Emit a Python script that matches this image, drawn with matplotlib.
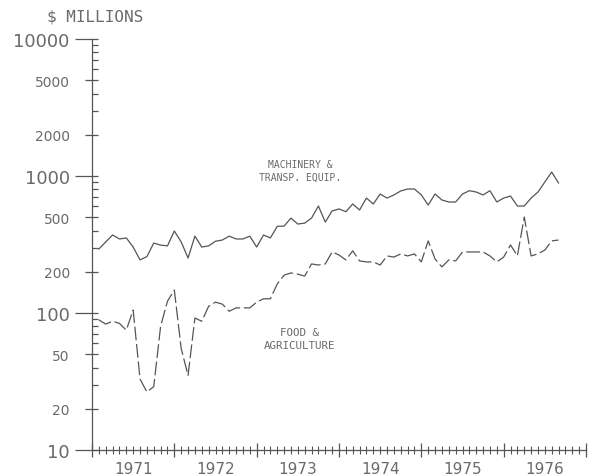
import numpy as np
import matplotlib
matplotlib.use("Agg")
import matplotlib.pyplot as plt

# monthly values, $ millions, starting Feb 1971 (month index 1 = Feb 1971)
machinery = [293, 330, 371, 347, 353, 303, 244, 258, 324, 313, 309, 397,
             330, 252, 364, 303, 309, 334, 341, 364, 347, 347, 364, 303,
             371, 353, 429, 431, 493, 446, 453, 493, 604, 461, 556, 575,
             549, 625, 565, 690, 625, 739, 690, 727, 778, 804, 804, 727,
             614, 739, 668, 646, 646, 739, 781, 764, 727, 781, 646, 690,
             714, 604, 604, 690, 764, 904, 1069, 889]

food = [89, 83, 87, 84, 75, 105, 33, 26.5, 29, 80, 122, 147,
        55, 35, 92, 87, 112, 120, 116, 103, 109, 109, 109, 120,
        127, 127, 163, 189, 196, 192, 186, 228, 224, 228, 279, 265,
        244, 284, 240, 236, 236, 224, 261, 256, 270, 261, 270, 236,
        336, 248, 217, 244, 240, 279, 279, 279, 279, 261, 236, 256,
        314, 261, 502, 261, 270, 288, 336, 341]

years = ['1971', '1972', '1973', '1974', '1975', '1976']
ytick_vals = [10, 20, 50, 100, 200, 500, 1000, 2000, 5000, 10000]

months = np.arange(1, len(machinery) + 1)

ink = '#555555'
txt = '#6a6a6a'

fig = plt.figure(figsize=(5.9, 4.77), dpi=100)
ax = fig.add_axes([92 / 590, 1 - 451 / 477, (586 - 92) / 590, (451 - 40) / 477])

ax.plot(months, machinery, color=ink, lw=0.9)
ax.plot(months, food, color=ink, lw=0.9, linestyle=(0, (11, 3)))

ax.set_yscale('log')
ax.set_ylim(10, 10000)
ax.set_xlim(0, 72)

for s in ['top', 'right']:
    ax.spines[s].set_visible(False)
for s in ['left', 'bottom']:
    ax.spines[s].set_color(ink)
    ax.spines[s].set_linewidth(0.9)

# y axis ticks
ax.yaxis.remove_overlapping_locs = False
ax.set_yticks(ytick_vals)
ax.set_yticklabels([str(v) for v in ytick_vals])
minor_y = [m * 10 ** d for d in range(1, 4) for m in range(1, 10)] + [10000]
ax.set_yticks(minor_y, minor=True)
ax.set_yticklabels([], minor=True)
ax.tick_params(axis='y', which='major', direction='out', length=12, color=ink, width=0.9,
               labelcolor=txt, pad=4)
ax.tick_params(axis='y', which='minor', direction='in', length=4, color=ink, width=0.9)
for v, t in zip(ytick_vals, ax.yaxis.get_major_ticks()):
    if v in (10, 100, 1000, 10000):
        t.label1.set_fontsize(13)
    else:
        t.tick1line.set_markersize(5)
        t.label1.set_fontsize(10)

# x axis ticks: year boundaries and months
ax.set_xticks(range(0, 73, 12))
ax.set_xticklabels([''] * 7)
ax.set_xticks(range(0, 73), minor=True)
minor_lbl = [''] * 73
for i, y in enumerate(years):
    minor_lbl[6 + 12 * i] = y
ax.set_xticklabels(minor_lbl, minor=True)
ax.tick_params(axis='x', which='major', direction='inout', length=10, color=ink, width=0.9)
ax.tick_params(axis='x', which='minor', direction='inout', length=6, color=ink, width=0.8,
               labelsize=11, labelcolor=txt, pad=5)

fig.text(47 / 590, 1 - 17 / 477, '$ MILLIONS', fontsize=11.5, color=txt,
         va='center', ha='left', family='DejaVu Sans Mono')

ax.text(30.3, 1100, 'MACHINERY &\nTRANSP. EQUIP.', fontsize=7, color=txt,
        ha='center', va='center', family='DejaVu Sans Mono', linespacing=1.3)
ax.text(30.2, 65, 'FOOD &\nAGRICULTURE', fontsize=7.8, color=txt,
        ha='center', va='center', family='DejaVu Sans Mono', linespacing=1.3)

fig.savefig('out.png', dpi=100)
